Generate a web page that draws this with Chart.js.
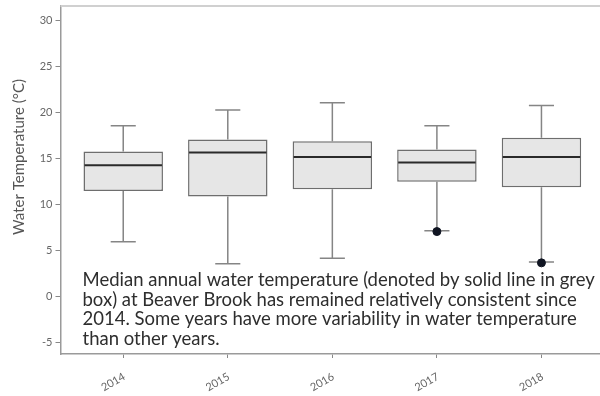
<!DOCTYPE html>
<html>
<head>
<meta charset="utf-8">
<script src="https://cdn.jsdelivr.net/npm/chart.js@4/dist/chart.umd.min.js"></script>
<style>
  html, body { margin: 0; padding: 0; background: #fff; }
  #wrap { width: 600px; height: 396px; }
</style>
</head>
<body>
<div id="wrap"><canvas id="boxChart" width="600" height="396"></canvas></div>
<script>
// 연도별 수온 데이터 (box plot)
var years = ['2014', '2015', '2016', '2017', '2018'];
var whiskerLow = [6.0, 3.6, 4.2, 7.2, 3.8];
var q1 = [11.5, 10.9, 11.7, 12.5, 11.9];
var median = [14.3, 15.7, 15.2, 14.6, 15.2];
var q3 = [15.8, 17.1, 16.9, 16.0, 17.3];
var whiskerHigh = [18.6, 20.3, 21.1, 18.6, 20.8];
var outlierYears = ['2017', '2018'];
var outlierValues = [7.1, 3.7];
var yTicks = [-5, 0, 5, 10, 15, 20, 25, 30];

var yTitle = 'Water Temperature (°C)';
var caption = [
  'Median annual water temperature (denoted by solid line in grey',
  'box) at Beaver Brook has remained relatively consistent since',
  '2014. Some years have more variability in water temperature',
  'than other years.'
];

// 수염, 중앙값, 텍스트 그리기
var boxPlugin = {
  id: 'boxExtras',
  beforeDatasetsDraw: function(chart) {
    var ctx = chart.ctx;
    var x = chart.scales.x, y = chart.scales.y;
    var capHalf = (x.getPixelForValue(1.12) - x.getPixelForValue(1));
    ctx.save();
    ctx.strokeStyle = '#858585';
    ctx.lineWidth = 1.5;
    years.forEach(function(yr, i) {
      var px = x.getPixelForValue(i + 1);
      ctx.beginPath();
      ctx.moveTo(px, y.getPixelForValue(whiskerLow[i]));
      ctx.lineTo(px, y.getPixelForValue(q1[i]));
      ctx.moveTo(px, y.getPixelForValue(q3[i]));
      ctx.lineTo(px, y.getPixelForValue(whiskerHigh[i]));
      ctx.moveTo(px - capHalf, y.getPixelForValue(whiskerLow[i]));
      ctx.lineTo(px + capHalf, y.getPixelForValue(whiskerLow[i]));
      ctx.moveTo(px - capHalf, y.getPixelForValue(whiskerHigh[i]));
      ctx.lineTo(px + capHalf, y.getPixelForValue(whiskerHigh[i]));
      ctx.stroke();
    });
    ctx.restore();
  },
  afterDatasetsDraw: function(chart) {
    var ctx = chart.ctx;
    var y = chart.scales.y;
    var meta = chart.getDatasetMeta(0);
    ctx.save();
    ctx.strokeStyle = '#2a2a2a';
    ctx.lineWidth = 2;
    meta.data.forEach(function(bar, i) {
      var py = y.getPixelForValue(median[i]);
      ctx.beginPath();
      ctx.moveTo(bar.x - bar.width / 2 + 1, py);
      ctx.lineTo(bar.x + bar.width / 2 - 1, py);
      ctx.stroke();
    });
    ctx.restore();
  },
  afterDraw: function(chart) {
    var ctx = chart.ctx;
    var area = chart.chartArea;
    ctx.save();
    // 위쪽 테두리
    ctx.strokeStyle = '#d0d0d0';
    ctx.lineWidth = 2;
    ctx.beginPath();
    ctx.moveTo(area.left, area.top);
    ctx.lineTo(area.right, area.top);
    ctx.stroke();

    // 설명 문구
    ctx.fillStyle = '#2e2e2e';
    ctx.font = '18.5px Lato';
    ctx.textAlign = 'left';
    ctx.textBaseline = 'alphabetic';
    caption.forEach(function(line, i) {
      ctx.fillText(line, area.left + 22, area.bottom - 68 + i * 19.5);
    });

    // y축 제목
    ctx.translate(19, 157);
    ctx.rotate(-Math.PI / 2);
    ctx.fillStyle = '#555';
    ctx.font = '15px Lato';
    ctx.textAlign = 'center';
    ctx.textBaseline = 'middle';
    ctx.fillText(yTitle, 0, 0);
    ctx.restore();
  }
};

function createChart() {
  var boxData = years.map(function(yr, i) {
    return { x: i + 1, y: [q1[i], q3[i]] };
  });
  var outlierData = outlierYears.map(function(yr, i) {
    return { x: years.indexOf(yr) + 1, y: outlierValues[i] };
  });

  var ctx = document.getElementById('boxChart').getContext('2d');
  new Chart(ctx, {
    type: 'bar',
    data: {
      datasets: [{
        label: 'IQR',
        data: boxData,
        backgroundColor: '#e6e6e6',
        borderColor: '#6e6e6e',
        borderWidth: 1.5,
        borderSkipped: false,
        barPercentage: 0.76,
        categoryPercentage: 1
      }, {
        type: 'line',
        label: 'Outliers',
        data: outlierData,
        showLine: false,
        pointRadius: 4,
        pointBackgroundColor: '#101522',
        pointBorderColor: '#101522'
      }]
    },
    options: {
      responsive: false,
      animation: false,
      layout: { autoPadding: false, padding: { top: 6, right: 0, left: 0, bottom: 0 } },
      plugins: {
        legend: { display: false },
        tooltip: { enabled: false }
      },
      scales: {
        x: {
          type: 'linear',
          offset: false,
          min: 0.4,
          max: 5.56,
          afterBuildTicks: function(scale) {
            scale.ticks = years.map(function(yr, i) { return { value: i + 1 }; });
          },
          afterFit: function(scale) {
            scale.height = 42;
            scale.paddingLeft = 0;
            scale.paddingRight = 0;
          },
          grid: { drawOnChartArea: false, offset: false, tickLength: 4, color: '#888', lineWidth: 1 },
          border: { color: '#9a9a9a', width: 1.5 },
          ticks: {
            minRotation: 30,
            maxRotation: 30,
            padding: 12,
            labelOffset: 1,
            color: '#666',
            font: { family: 'Lato', size: 11 },
            callback: function(value) { return years[value - 1]; }
          }
        },
        y: {
          min: -6.2,
          max: 31.6,
          afterBuildTicks: function(scale) {
            scale.ticks = yTicks.map(function(v) { return { value: v }; });
          },
          afterFit: function(scale) {
            scale.width = 60.5;
            scale.paddingTop = 0;
            scale.paddingBottom = 0;
          },
          grid: { drawOnChartArea: false, tickLength: 5, color: '#888', lineWidth: 1 },
          border: { color: '#9a9a9a', width: 1.5 },
          ticks: {
            padding: 3,
            color: '#666',
            font: { family: 'Lato', size: 11 }
          }
        }
      }
    },
    plugins: [boxPlugin]
  });
}

createChart();
</script>
</body>
</html>
